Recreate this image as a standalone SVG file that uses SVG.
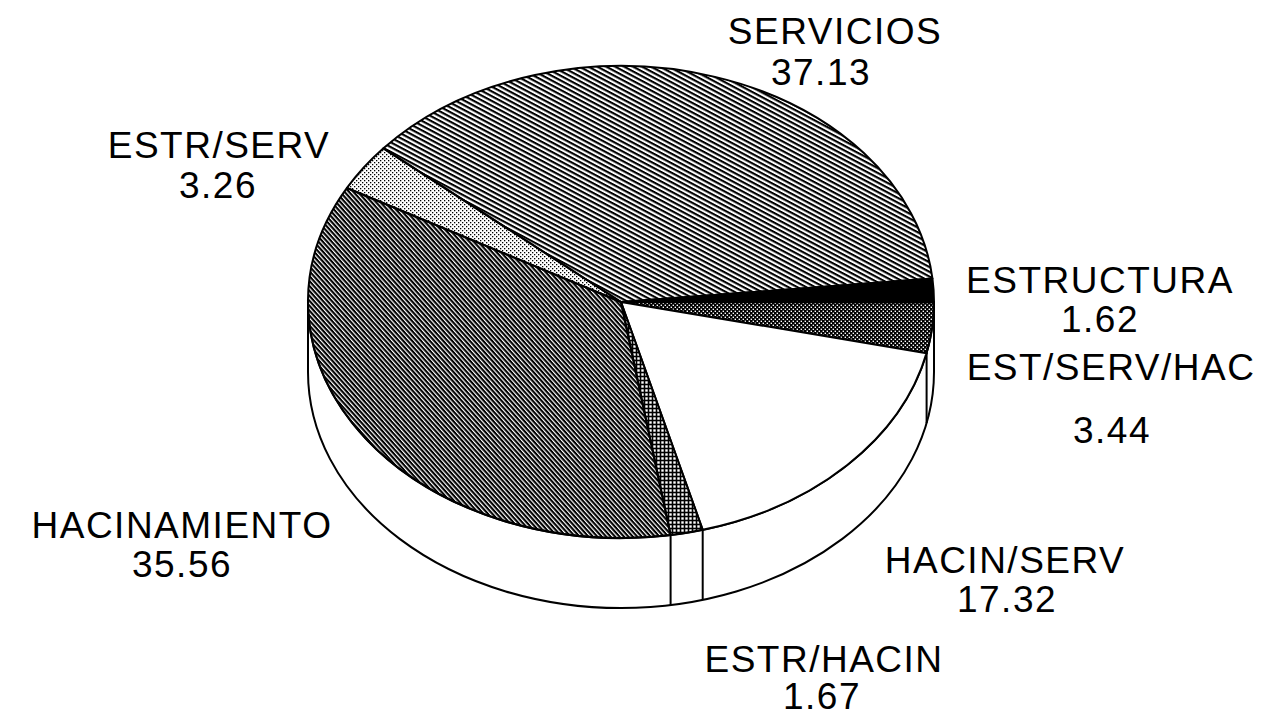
<svg xmlns="http://www.w3.org/2000/svg" width="1282" height="717" viewBox="0 0 1282 717">
<defs>
<pattern id="pServ" width="8" height="4.2" patternUnits="userSpaceOnUse" patternTransform="rotate(28)"><rect width="8" height="2.1" fill="#000"/></pattern>
<pattern id="pHac" width="8" height="3.3" patternUnits="userSpaceOnUse" patternTransform="rotate(48)"><rect width="8" height="2.1" fill="#000"/></pattern>
<pattern id="pDots" width="4" height="4" patternUnits="userSpaceOnUse"><rect x="0" y="0" width="1.3" height="1.3" fill="#000"/><rect x="2" y="2" width="1.3" height="1.3" fill="#000"/></pattern>
<pattern id="pDark" width="4" height="4" patternUnits="userSpaceOnUse"><rect width="4" height="4" fill="#000"/><rect x="0.6" y="0.6" width="1.4" height="1.4" fill="#fff"/><rect x="2.6" y="2.6" width="1.4" height="1.4" fill="#fff"/></pattern>
<pattern id="pGrid" width="4" height="4" patternUnits="userSpaceOnUse"><rect width="4" height="4" fill="#000"/><rect x="1.3" y="1.3" width="2.4" height="2.4" fill="#fff"/></pattern>
</defs>
<style>
.edge{stroke:#000;stroke-width:2;stroke-linejoin:round}
.lbl{font-family:"Liberation Sans",Arial,sans-serif;font-size:37px;letter-spacing:1.5px;fill:#000;text-anchor:middle}
</style>
<rect width="1282" height="717" fill="#fff"/>
<g id="side">
<path class="edge" fill="#fff" d="M308 302 L308 372 A313 236 0 0 0 934 372 L934 302 A313 236 0 0 1 308 302 Z"/>
</g>
<g id="connectors">
<line class="edge" x1="926.6" y1="353.1" x2="926.6" y2="423.1"/>
<line class="edge" x1="702.7" y1="529.8" x2="702.7" y2="599.8"/>
<line class="edge" x1="670.6" y1="535.0" x2="670.6" y2="605.0"/>
</g>
<g id="servicios"><path class="edge" fill="url(#pServ)" d="M621 302 L383.45 148.32 A313 236 0 0 1 932.45 278.56 Z"/></g>
<g id="estructura"><path class="edge" fill="#000" d="M621 302 L932.45 278.56 A313 236 0 0 1 934 302.5 Z"/></g>
<g id="est-serv-hac"><path class="edge" fill="url(#pDark)" d="M621 302 L934 302.5 A313 236 0 0 1 926.56 353.14 Z"/></g>
<g id="hacin-serv"><path class="edge" fill="#fff" d="M621 302 L926.56 353.14 A313 236 0 0 1 702.71 529.82 Z"/></g>
<g id="estr-hacin"><path class="edge" fill="url(#pGrid)" d="M621 302 L702.71 529.82 A313 236 0 0 1 670.61 535.02 Z"/></g>
<g id="hacinamiento"><path class="edge" fill="url(#pHac)" d="M621 302 L670.61 535.02 A313 236 0 0 1 346.97 187.96 Z"/></g>
<g id="estr-serv"><path class="edge" fill="url(#pDots)" d="M621 302 L346.97 187.96 A313 236 0 0 1 383.45 148.32 Z"/></g>
<g id="labels">
<text class="lbl" x="835" y="44">SERVICIOS</text>
<text class="lbl" x="821" y="85">37.13</text>
<text class="lbl" x="219" y="158">ESTR/SERV</text>
<text class="lbl" x="218" y="198">3.26</text>
<text class="lbl" x="1100" y="293">ESTRUCTURA</text>
<text class="lbl" x="1100" y="332">1.62</text>
<text class="lbl" x="1111" y="380">EST/SERV/HAC</text>
<text class="lbl" x="1112" y="443">3.44</text>
<text class="lbl" x="182" y="538">HACINAMIENTO</text>
<text class="lbl" x="182" y="577">35.56</text>
<text class="lbl" x="1005" y="573">HACIN/SERV</text>
<text class="lbl" x="1007" y="612">17.32</text>
<text class="lbl" x="824" y="672">ESTR/HACIN</text>
<text class="lbl" x="822" y="709">1.67</text>
</g>
</svg>
